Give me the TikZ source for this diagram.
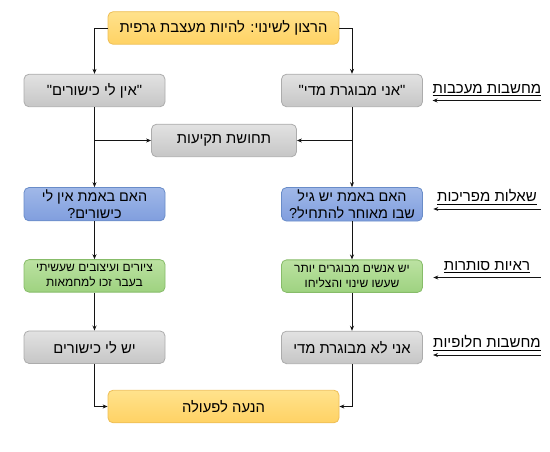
\documentclass[tikz,border=0pt]{standalone}
\usepackage{xcolor}
\usepackage{fontspec}
\usepackage{tikz}
\usetikzlibrary{arrows.meta, positioning, calc}
\newfontfamily\hebfont[Script=Hebrew]{Liberation Sans}
\TeXXeTstate=1
\newcommand{\heb}[1]{\beginR #1\endR}
\definecolor{mydark}{RGB}{20,20,20}
\definecolor{myamber}{RGB}{238,190,85}
\definecolor{mygray}{RGB}{172,172,172}
\definecolor{myblue}{RGB}{105,140,200}
\definecolor{mygreen}{RGB}{135,188,105}
\definecolor{hdrambertop}{RGB}{255,226,140}
\definecolor{hdramber}{RGB}{255,210,100}
\definecolor{hdrgraytop}{RGB}{226,226,226}
\definecolor{hdrgray}{RGB}{198,198,198}
\definecolor{hdrbluetop}{RGB}{160,184,232}
\definecolor{hdrblue}{RGB}{128,158,222}
\definecolor{hdrgreentop}{RGB}{188,226,162}
\definecolor{hdrgreen}{RGB}{158,210,128}
\tikzset{
  block/.style={rectangle, align=center, minimum height=32.5pt,
    font=\hebfont\fontsize{14.8}{18}\selectfont, rounded corners=5pt,
    line width=0.8pt, inner sep=2pt},
  goalblock/.style={block, draw=myamber, top color=hdrambertop,
    bottom color=hdramber, minimum width=231pt},
  grayblock/.style={block, draw=mygray, top color=hdrgraytop,
    bottom color=hdrgray, minimum width=141pt},
  blueblock/.style={block, draw=myblue, top color=hdrbluetop,
    bottom color=hdrblue, minimum width=141pt,
    font=\hebfont\fontsize{14.4}{17.5}\selectfont},
  greenblock/.style={block, draw=mygreen, top color=hdrgreentop,
    bottom color=hdrgreen, minimum width=141pt,
    font=\hebfont\fontsize{12}{15}\selectfont},
  hintlabel/.style={font=\hebfont\fontsize{15}{18}\selectfont,
    minimum width=107pt, inner xsep=0pt, inner ysep=4.5pt, anchor=south},
  arrow/.style={-{Stealth[length=5pt, width=4pt]}, line width=0.8pt, color=mydark}
}
\begin{document}
\begin{tikzpicture}[x=1pt, y=-1pt]
  \useasboundingbox (0,0) rectangle (550,452);
  \node[goalblock] (goal) at (223.5,28) {\heb{הרצון לשינוי: להיות מעצבת גרפית}};
  \node[grayblock] (nocan) at (94.5,90.5) {\heb{"אין לי כישורים"}};
  \node[grayblock] (tooold) at (352,90.5) {\heb{"אני מבוגרת מדי"}};
  \node[grayblock, minimum width=145pt] (stuck) at (224,140.5) {\heb{תחושת תקיעות}};
  \node[blueblock, below=80pt of nocan] (qnocan) {\heb{האם באמת אין לי}\\\heb{כישורים?}};
  \node[blueblock, below=80pt of tooold] (qold) {\heb{האם באמת יש גיל}\\\heb{שבו מאוחר להתחיל?}};
  \node[greenblock, below=38pt of qnocan] (drawings) {\heb{ציורים ועיצובים שעשיתי}\\\heb{בעבר זכו למחמאות}};
  \node[greenblock, below=38pt of qold] (people) {\heb{יש אנשים מבוגרים יותר}\\\heb{שעשו שינוי והצליחו}};
  \node[grayblock, below=38pt of drawings] (yescan) {\heb{יש לי כישורים}};
  \node[grayblock, below=38pt of people] (notold) {\heb{אני לא מבוגרת מדי}};
  \node[goalblock] (action) at (223.5,406.5) {\heb{הנעה לפעולה}};
  \draw[arrow] (goal) -| (nocan);
  \draw[arrow] (goal) -| (tooold);
  \draw[arrow] (nocan) -- (qnocan);
  \draw[arrow] (tooold) -- (qold);
  \draw[arrow] (nocan |- stuck) -- (stuck);
  \draw[arrow] (tooold |- stuck) -- (stuck);
  \draw[arrow] (qnocan) -- (drawings);
  \draw[arrow] (qold) -- (people);
  \draw[arrow] (drawings) -- (yescan);
  \draw[arrow] (people) -- (notold);
  \draw[arrow] (yescan) |- (action);
  \draw[arrow] (notold) |- (action);
  % labels on the right
  \node[hintlabel] (blocking) at (487,100.5) {\underline{\heb{מחשבות מעכבות}}};
  \node[hintlabel] (refuting) at (487,209) {\underline{\heb{שאלות מפריכות}}};
  \node[hintlabel] (evidence) at (487,277.5) {\underline{\heb{ראיות סותרות}}};
  \node[hintlabel] (alternative) at (487,355) {\underline{\heb{מחשבות חלופיות}}};
  \draw[arrow] (blocking.south east) -- (blocking.south west);
  \draw[arrow] (refuting.south east) -- (refuting.south west);
  \draw[arrow] (evidence.south east) -- (evidence.south west);
  \draw[arrow] (alternative.south east) -- (alternative.south west);
\end{tikzpicture}
\end{document}
